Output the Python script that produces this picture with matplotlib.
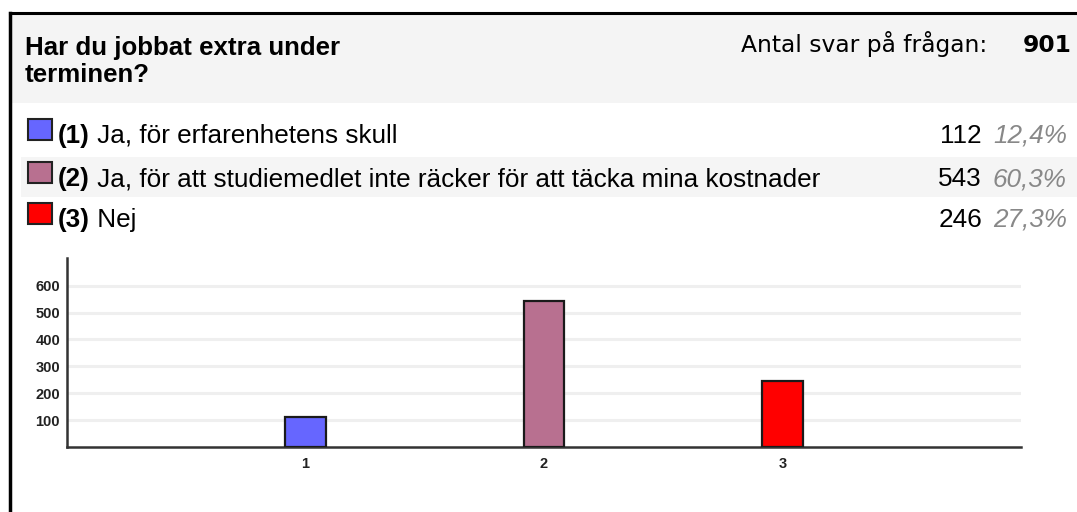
import matplotlib
matplotlib.use("Agg")
import matplotlib.pyplot as plt
from matplotlib.patches import Rectangle

# data
title_lines = ["Har du jobbat extra under", "terminen?"]
total = 901
codes = ["(1)", "(2)", "(3)"]
labels = [
    "Ja, för erfarenhetens skull",
    "Ja, för att studiemedlet inte räcker för att täcka mina kostnader",
    "Nej",
]
counts = [112, 543, 246]
pcts = ["12,4%", "60,3%", "27,3%"]
colors = ["#6666ff", "#b87090", "#ff0000"]
yticks = [100, 200, 300, 400, 500, 600]

W, H = 1077, 512
fig = plt.figure(figsize=(W / 100, H / 100), dpi=100)

def fx(x):
    return x / W

def fy(y):
    return 1 - y / H

arial = "Liberation Sans"
verdana = "DejaVu Sans"
fs = 18.8

# header band and frame
fig.patches.append(Rectangle((fx(10), fy(103)), fx(W) - fx(10), fy(13) - fy(103),
                             transform=fig.transFigure, facecolor="#f4f4f4",
                             edgecolor="none", zorder=1))
fig.lines.append(plt.Line2D([fx(10), fx(W)], [fy(13), fy(13)], transform=fig.transFigure,
                            color="black", lw=2.2, zorder=3))
fig.lines.append(plt.Line2D([fx(10), fx(10)], [fy(13), 0], transform=fig.transFigure,
                            color="black", lw=2.5, zorder=3))

# title and total
fig.text(fx(25), fy(55), title_lines[0], fontsize=18.6, fontweight="bold", family=arial,
         ha="left", va="baseline", zorder=4)
fig.text(fx(25), fy(82), title_lines[1], fontsize=18.6, fontweight="bold", family=arial,
         ha="left", va="baseline", zorder=4)
fig.text(fx(1072), fy(52), str(total), fontsize=16.8, fontweight="bold", family=verdana,
         ha="right", va="baseline", zorder=4)
fig.text(fx(987), fy(52), "Antal svar på frågan:", fontsize=16.8, family=verdana,
         ha="right", va="baseline", zorder=4)

# legend rows
row_base = [143, 186, 227]
renderer = fig.canvas.get_renderer()
for i in range(3):
    b = row_base[i]
    if i == 1:
        fig.patches.append(Rectangle((fx(21), fy(197)), fx(1077) - fx(21), fy(157) - fy(197),
                                     transform=fig.transFigure, facecolor="#f5f5f5",
                                     edgecolor="none", zorder=1))
    fig.patches.append(Rectangle((fx(28), fy(b - 3)), fx(52) - fx(28), fy(b - 24) - fy(b - 3),
                                 transform=fig.transFigure, facecolor=colors[i],
                                 edgecolor="#222222", lw=1.5, zorder=4))
    c = fig.text(fx(58), fy(b), codes[i], fontsize=fs, fontweight="bold", family=arial,
                 ha="left", va="baseline", zorder=4)
    x1 = c.get_window_extent(renderer).x1
    fig.text(x1 / W, fy(b), " " + labels[i], fontsize=fs, family=arial,
             ha="left", va="baseline", zorder=4)
    fig.text(fx(1067), fy(b), pcts[i], fontsize=fs, style="italic", color="#888888",
             family=arial, ha="right", va="baseline", zorder=4)
    fig.text(fx(982), fy(b), str(counts[i]), fontsize=fs, family=arial,
             ha="right", va="baseline", zorder=4)

# bar chart
ax = fig.add_axes([fx(67), fy(447), fx(1021) - fx(67), fy(258) - fy(447)])
ax.set_zorder(5)
ax.set_facecolor("none")
x = [1, 2, 3]
ax.bar(x, counts, width=0.168, color=colors, edgecolor="#1a1a1a", linewidth=1.6, zorder=3)
ax.set_xlim(0, 4)
ax.set_ylim(0, 703)
ax.set_yticks(yticks)
ax.set_xticks(x)
ax.set_xticklabels(["1", "2", "3"])
for v in yticks:
    ax.axhline(v, color="#efefef", lw=2.2, zorder=1)
for s in ["top", "right"]:
    ax.spines[s].set_visible(False)
for s in ["left", "bottom"]:
    ax.spines[s].set_color("#333333")
    ax.spines[s].set_linewidth(1.8)
ax.tick_params(length=0)
ax.tick_params(axis="y", pad=5)
ax.tick_params(axis="x", pad=7)
for lab in ax.get_xticklabels() + ax.get_yticklabels():
    lab.set_fontsize(10.5)
    lab.set_fontweight("bold")
    lab.set_family(arial)
    lab.set_color("#222222")

fig.savefig("out.png", dpi=100)
